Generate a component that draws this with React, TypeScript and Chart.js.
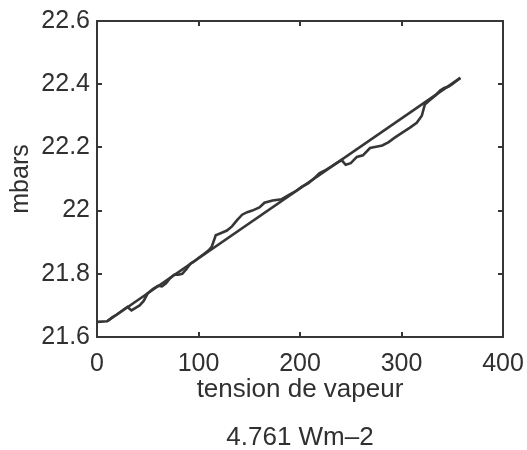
import React, { useEffect, useRef } from "react";
import { Chart, registerables } from "chart.js";

Chart.register(...registerables);

const xTicks = [0, 100, 200, 300, 400];
const yTicks = [21.6, 21.8, 22, 22.2, 22.4, 22.6];

const dataX = [0, 10, 15, 20, 25, 30, 34, 38, 42, 46, 50, 55, 60, 64, 68, 72, 76, 80, 84, 88, 92, 96, 100, 105, 110, 113, 117, 123, 128, 133, 138, 143, 148, 153, 160, 165, 173, 182, 190, 196, 202, 208, 214, 219, 224, 230, 236, 241, 245, 250, 256, 262, 269, 275, 281, 287, 293, 300, 308, 315, 320, 323, 328, 334, 338, 342, 346, 350, 354, 358];
const dataY = [21.648, 21.65, 21.662, 21.672, 21.684, 21.695, 21.684, 21.692, 21.7, 21.714, 21.738, 21.752, 21.762, 21.76, 21.77, 21.786, 21.797, 21.797, 21.8, 21.815, 21.832, 21.84, 21.85, 21.862, 21.874, 21.885, 21.922, 21.93, 21.937, 21.95, 21.97, 21.987, 21.995, 22.0, 22.01, 22.025, 22.032, 22.036, 22.051, 22.062, 22.076, 22.086, 22.102, 22.118, 22.126, 22.138, 22.15, 22.16, 22.145, 22.15, 22.17, 22.175, 22.198, 22.202, 22.206, 22.216, 22.23, 22.245, 22.262, 22.278, 22.3, 22.336, 22.35, 22.366, 22.38, 22.388, 22.392, 22.4, 22.41, 22.42];

const fitX = [10, 358];
const fitY = [21.65, 22.42];

const xTitle = "tension de vapeur";
const subTitle = "4.761 Wm\u20132";
const yTitle = "mbars";

export default function App() {
  const ref = useRef<HTMLCanvasElement>(null);

  useEffect(() => {
    const ink = "#363636";
    const textInk = "#303030";
    const family = "'Liberation Sans', Arial, Helvetica, sans-serif";
    const font = { family, size: 25 };
    const tickOnly = {
      display: true,
      drawOnChartArea: false,
      drawTicks: true,
      tickLength: -5,
      color: ink,
      lineWidth: 2,
    };
    const border = { display: true, color: ink, width: 2 };
    const noPad = (s: any) => {
      s.paddingLeft = 0;
      s.paddingRight = 0;
      s.paddingTop = 0;
      s.paddingBottom = 0;
    };

    const chart = new Chart(ref.current as HTMLCanvasElement, {
      type: "line",
      data: {
        datasets: [
          {
            data: dataX.map((x, i) => ({ x, y: dataY[i] })),
            borderColor: ink,
            borderWidth: 2.6,
            pointRadius: 0,
            tension: 0,
            fill: false,
          },
          {
            data: fitX.map((x, i) => ({ x, y: fitY[i] })),
            borderColor: ink,
            borderWidth: 2.6,
            pointRadius: 0,
            tension: 0,
            fill: false,
          },
        ],
      },
      options: {
        animation: false,
        responsive: false,
        layout: { padding: { left: 0, top: 21, right: 24, bottom: 0 } },
        plugins: {
          legend: { display: false },
          tooltip: { enabled: false },
        },
        scales: {
          x: {
            type: "linear",
            position: "bottom",
            min: 0,
            max: 400,
            afterBuildTicks: (s: any) => {
              s.ticks = xTicks.map((v) => ({ value: v }));
            },
            grid: tickOnly,
            border,
            ticks: {
              color: textInk,
              font,
              padding: 17,
              maxRotation: 0,
              callback: (v: any) => String(v),
            },
            title: {
              display: true,
              text: [xTitle, "", subTitle],
              color: textInk,
              font: { family, size: 26, lineHeight: 0.93 },
              padding: { top: 0, bottom: 0 },
            },
            afterFit: (s: any) => {
              s.height = 113;
              noPad(s);
            },
          },
          x2: {
            type: "linear",
            position: "top",
            min: 0,
            max: 400,
            afterBuildTicks: (s: any) => {
              s.ticks = xTicks.map((v) => ({ value: v }));
            },
            grid: tickOnly,
            border,
            ticks: { display: false },
            afterFit: (s: any) => {
              s.height = 0;
              noPad(s);
            },
          },
          y: {
            type: "linear",
            position: "left",
            min: 21.6,
            max: 22.6,
            afterBuildTicks: (s: any) => {
              s.ticks = yTicks.map((v) => ({ value: v }));
            },
            grid: tickOnly,
            border,
            ticks: {
              color: textInk,
              font,
              padding: 12,
              callback: (v: any) => String(Number(Number(v).toFixed(1))),
            },
            title: {
              display: true,
              text: yTitle,
              color: textInk,
              font: { family, size: 25, lineHeight: 1 },
              padding: { top: 9, bottom: 0 },
            },
            afterFit: (s: any) => {
              s.width = 97;
              noPad(s);
            },
          },
          y2: {
            type: "linear",
            position: "right",
            min: 21.6,
            max: 22.6,
            afterBuildTicks: (s: any) => {
              s.ticks = yTicks.map((v) => ({ value: v }));
            },
            grid: tickOnly,
            border,
            ticks: { display: false },
            afterFit: (s: any) => {
              s.width = 0;
              noPad(s);
            },
          },
        },
      },
    } as any);

    return () => chart.destroy();
  }, []);

  return (
    <div style={{ position: "fixed", left: 0, top: 0, width: 527, height: 450, background: "#ffffff" }}>
      <canvas ref={ref} width={527} height={450} style={{ display: "block" }} />
    </div>
  );
}
